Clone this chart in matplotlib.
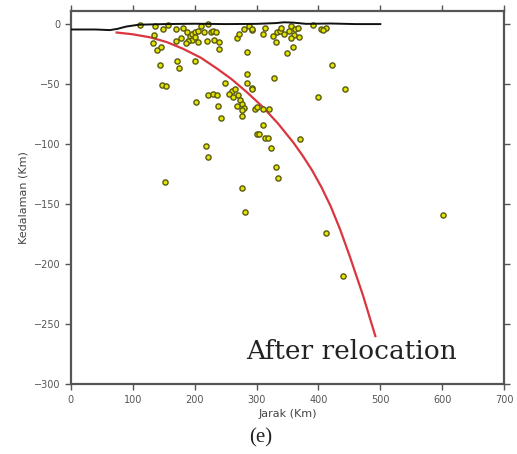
import matplotlib
matplotlib.use("Agg")
import matplotlib.pyplot as plt

# Earthquake hypocenters (distance km, depth km)
quake_x = [111, 136, 149, 135, 132, 139, 145, 144, 172, 175, 200, 148, 153, 170, 157, 181,
           187, 192, 195, 200, 205, 210, 215, 222, 226, 230, 235, 195, 200, 190, 186, 178,
           170, 205, 220, 232, 240, 240, 268, 272, 285, 280, 288, 292, 285, 285, 293, 249,
           260, 265, 270, 274, 276, 279, 276, 202, 221, 229, 236, 255, 262, 268, 238, 242,
           276, 219, 222, 152, 276, 301, 281, 292, 310, 314, 333, 338, 326, 345, 340, 331,
           349, 359, 355, 362, 352, 367, 360, 368, 356, 391, 405, 412, 408, 422, 328, 443,
           399, 292, 297, 300, 310, 320, 310, 304, 314, 318, 323, 370, 331, 335, 412, 439, 601]
quake_y = [-1, -2, -4, -9, -16, -22, -19, -34, -31, -37, -31, -51, -52, -4, -1, -3,
           -7, -10, -8, -7, -6, -2, -7, 0, -7, -6, -7, -13, -11, -14, -16, -12,
           -14, -15, -14, -13, -21, -15, -12, -8, -23, -4, -2, -5, -42, -49, -53, -49,
           -56, -54, -59, -63, -67, -70, -72, -65, -59, -58, -59, -58, -61, -68, -68, -78,
           -77, -102, -111, -132, -137, -92, -157, -4, -8, -3, -7, -6, -10, -8, -3, -15,
           -24, -19, -2, -4, -6, -3, -9, -11, -12, -1, -4, -3, -5, -34, -45, -54,
           -61, -54, -71, -69, -71, -71, -84, -92, -95, -95, -103, -96, -119, -128, -174, -210, -159]

# Slab model after relocation (red curve)
slab_x = [74, 100, 128, 155, 181, 210, 236, 260, 285, 310, 335, 360, 375, 390, 405, 420,
          435, 451, 472, 492]
slab_y = [-7, -8.5, -11, -15, -20.5, -28, -37, -46, -57, -69, -83, -99, -110, -122, -136, -152,
          -171, -194, -226, -260]

# Topography / surface profile (black line)
topo_x = [0, 40, 63, 75, 90, 110, 150, 200, 250, 300, 330, 345, 360, 380, 420, 460, 500]
topo_y = [-4.5, -4.5, -5, -4, -2, -0.5, 0, 0.3, 0, 0.2, 0.8, 1.5, 1.2, 0.2, 0.5, 0, 0]

x_ticks = [0, 100, 200, 300, 400, 500, 600, 700]
y_ticks = [-300, -250, -200, -150, -100, -50, 0]

fig = plt.figure(figsize=(5.17, 4.54), dpi=100)
ax = fig.add_axes([0.137, 0.154, 0.838, 0.822])

ax.plot(slab_x, slab_y, color="#d9363e", lw=1.6, zorder=2)
ax.scatter(quake_x, quake_y, s=14, facecolor="#e3e300", edgecolor="#5a5a10",
           linewidths=1.0, zorder=3)
ax.plot(topo_x, topo_y, color="#111111", lw=1.4, zorder=4)

ax.set_xlim(0, 700)
ax.set_ylim(-300, 11)
ax.set_xticks(x_ticks)
ax.set_yticks(y_ticks)
ax.tick_params(axis="both", which="both", direction="out", length=4, width=1,
               colors="#555555", labelsize=7, labelcolor="#555555",
               top=True, right=True, labeltop=False, labelright=False)
for sp in ax.spines.values():
    sp.set_color("#555555")
    sp.set_linewidth(1.6)

ax.set_xlabel("Jarak (Km)", fontsize=8, color="#444444", labelpad=3)
ax.set_ylabel("Kedalaman (Km)", fontsize=8, color="#444444", labelpad=4)

fig.text(246 / 517, 1 - 359 / 454, "After relocation",
         family="DejaVu Serif", fontsize=19, color="#222222",
         ha="left", va="baseline", zorder=5)
fig.text(261 / 517, 1 - 438 / 454, "(e)", family="Liberation Serif", fontsize=15,
         color="#222222", ha="center", va="center")

fig.savefig("out.png", dpi=100)
